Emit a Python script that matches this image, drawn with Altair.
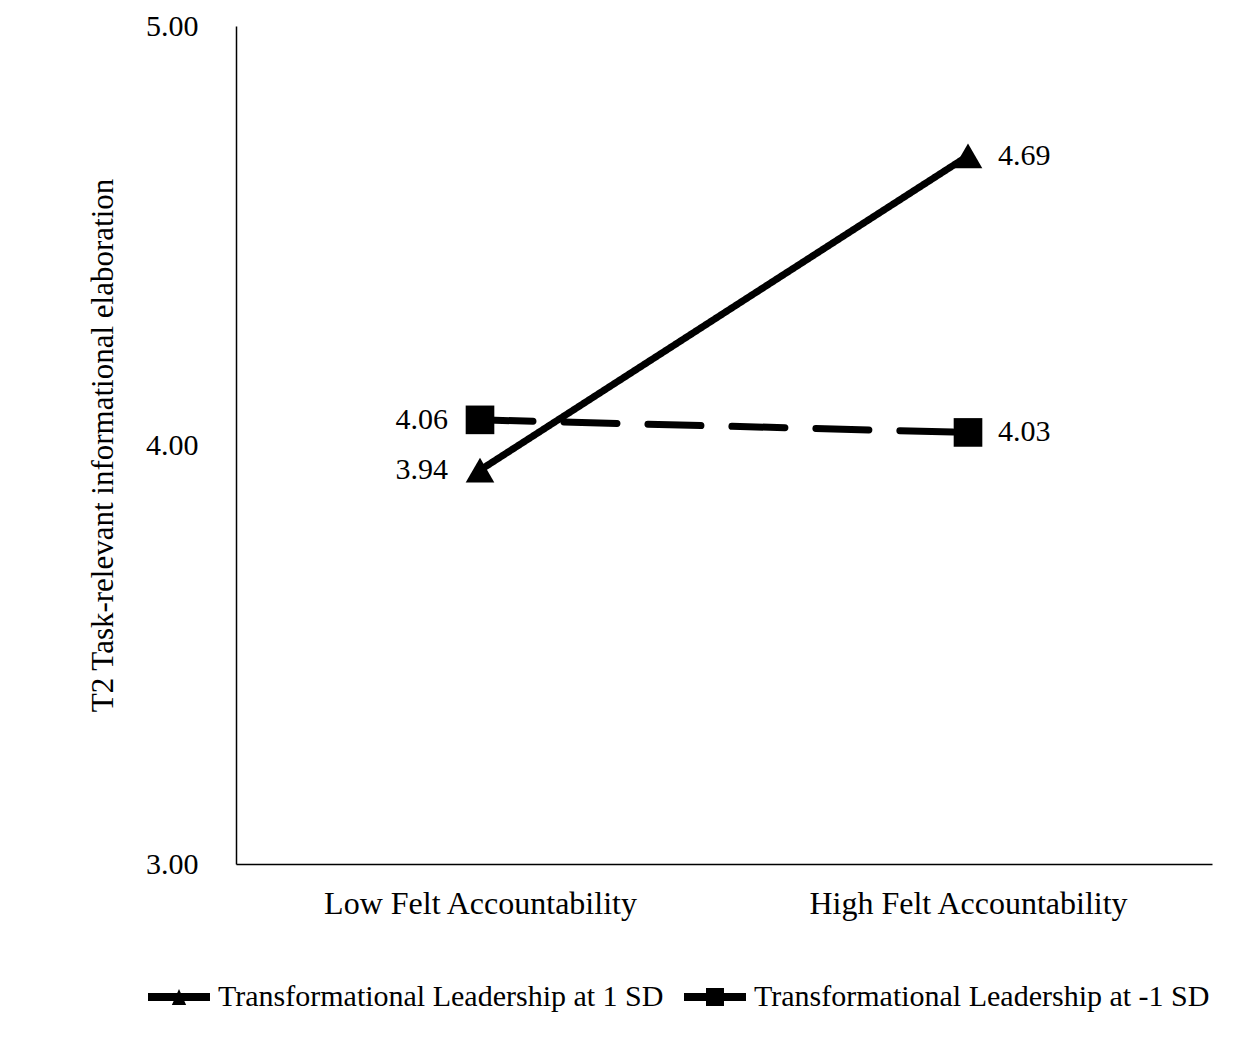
import altair as alt
import pandas as pd

categories = ["Low Felt Accountability", "High Felt Accountability"]
series = ["Transformational Leadership at 1 SD", "Transformational Leadership at -1 SD"]
values_high_tl = [3.94, 4.69]
values_low_tl = [4.06, 4.03]
y_ticks = [3.0, 4.0, 5.0]
y_title = "T2 Task-relevant  informational elaboration"

rows = []
for s, vals in zip(series, [values_high_tl, values_low_tl]):
    for c, v in zip(categories, vals):
        rows.append({"category": c, "series": s, "value": v, "label": f"{v:.2f}"})
df = pd.DataFrame(rows)

FONT = "Liberation Serif"
tri_path = "M-1,-0.13H1V0.13H-1Z M-0.23,0.26L0,-0.26L0.23,0.26Z"
sq_path = "M-1,-0.13H1V0.13H-1Z M-0.29,-0.29H0.29V0.29H-0.29Z"

x_enc = alt.X(
    "category:N",
    sort=categories,
    scale=alt.Scale(type="point", padding=0.5),
    axis=alt.Axis(title=None, labelAngle=0, labelPadding=24, labelLimit=600, labelFontSize=32),
)
y_enc = alt.Y(
    "value:Q",
    scale=alt.Scale(domain=[3, 5], nice=False, zero=False),
    axis=alt.Axis(values=y_ticks, format=".2f", title=y_title, labelPadding=38,
                  titlePadding=26, titleFontSize=31),
)

base = alt.Chart(df)

lines = base.mark_line(strokeWidth=7, strokeCap="round", color="black").encode(
    x=x_enc,
    y=y_enc,
    strokeDash=alt.StrokeDash(
        "series:N",
        scale=alt.Scale(domain=series, range=[[1, 0], [53, 31]]),
        legend=None,
    ),
)

points = base.mark_point(filled=True, opacity=1, color="black", size=820).encode(
    x=x_enc,
    y=y_enc,
    shape=alt.Shape(
        "series:N",
        scale=alt.Scale(domain=series, range=["triangle-up", "square"]),
        legend=None,
    ),
)

legend_layer = base.mark_point(filled=True, color="black", size=0).encode(
    x=x_enc,
    y=y_enc,
    shape=alt.Shape(
        "series:N",
        sort=series,
        scale=alt.Scale(domain=series, range=[tri_path, sq_path]),
        legend=alt.Legend(
            title=None,
            orient="none",
            legendX=-88,
            legendY=940,
            direction="horizontal",
            symbolSize=3844,
            symbolStrokeWidth=0,
            symbolFillColor="black",
            symbolOpacity=1,
            labelFont=FONT,
            labelFontSize=30,
            labelColor="black",
            labelOffset=8,
            columnPadding=20,
            labelLimit=600,
        ),
    ),
)

labels_left = base.transform_filter(alt.datum.category == categories[0]).mark_text(
    align="right", baseline="middle", dx=-32, font=FONT, fontSize=30, color="black"
).encode(x=x_enc, y=y_enc, text="label:N")

labels_right = base.transform_filter(alt.datum.category == categories[1]).mark_text(
    align="left", baseline="middle", dx=30, font=FONT, fontSize=30, color="black"
).encode(x=x_enc, y=y_enc, text="label:N")

chart = (
    alt.layer(lines, points, legend_layer, labels_left, labels_right)
    .resolve_scale(shape="independent")
    .properties(
        width=976,
        height=838,
        autosize=alt.AutoSizeParams(type="none"),
        padding={"left": 228, "top": 18, "right": 30, "bottom": 185},
        background="white",
    )
    .configure_view(stroke=None)
    .configure_axis(
        domainColor="black",
        domainWidth=1.5,
        grid=False,
        ticks=False,
        tickSize=0,
        labelFont=FONT,
        labelFontSize=30,
        labelColor="black",
        titleFont=FONT,
        titleFontSize=30,
        titleColor="black",
        titleFontWeight="normal",
    )
)

chart.save("out.html", embed_options={"renderer": "svg", "actions": False})
